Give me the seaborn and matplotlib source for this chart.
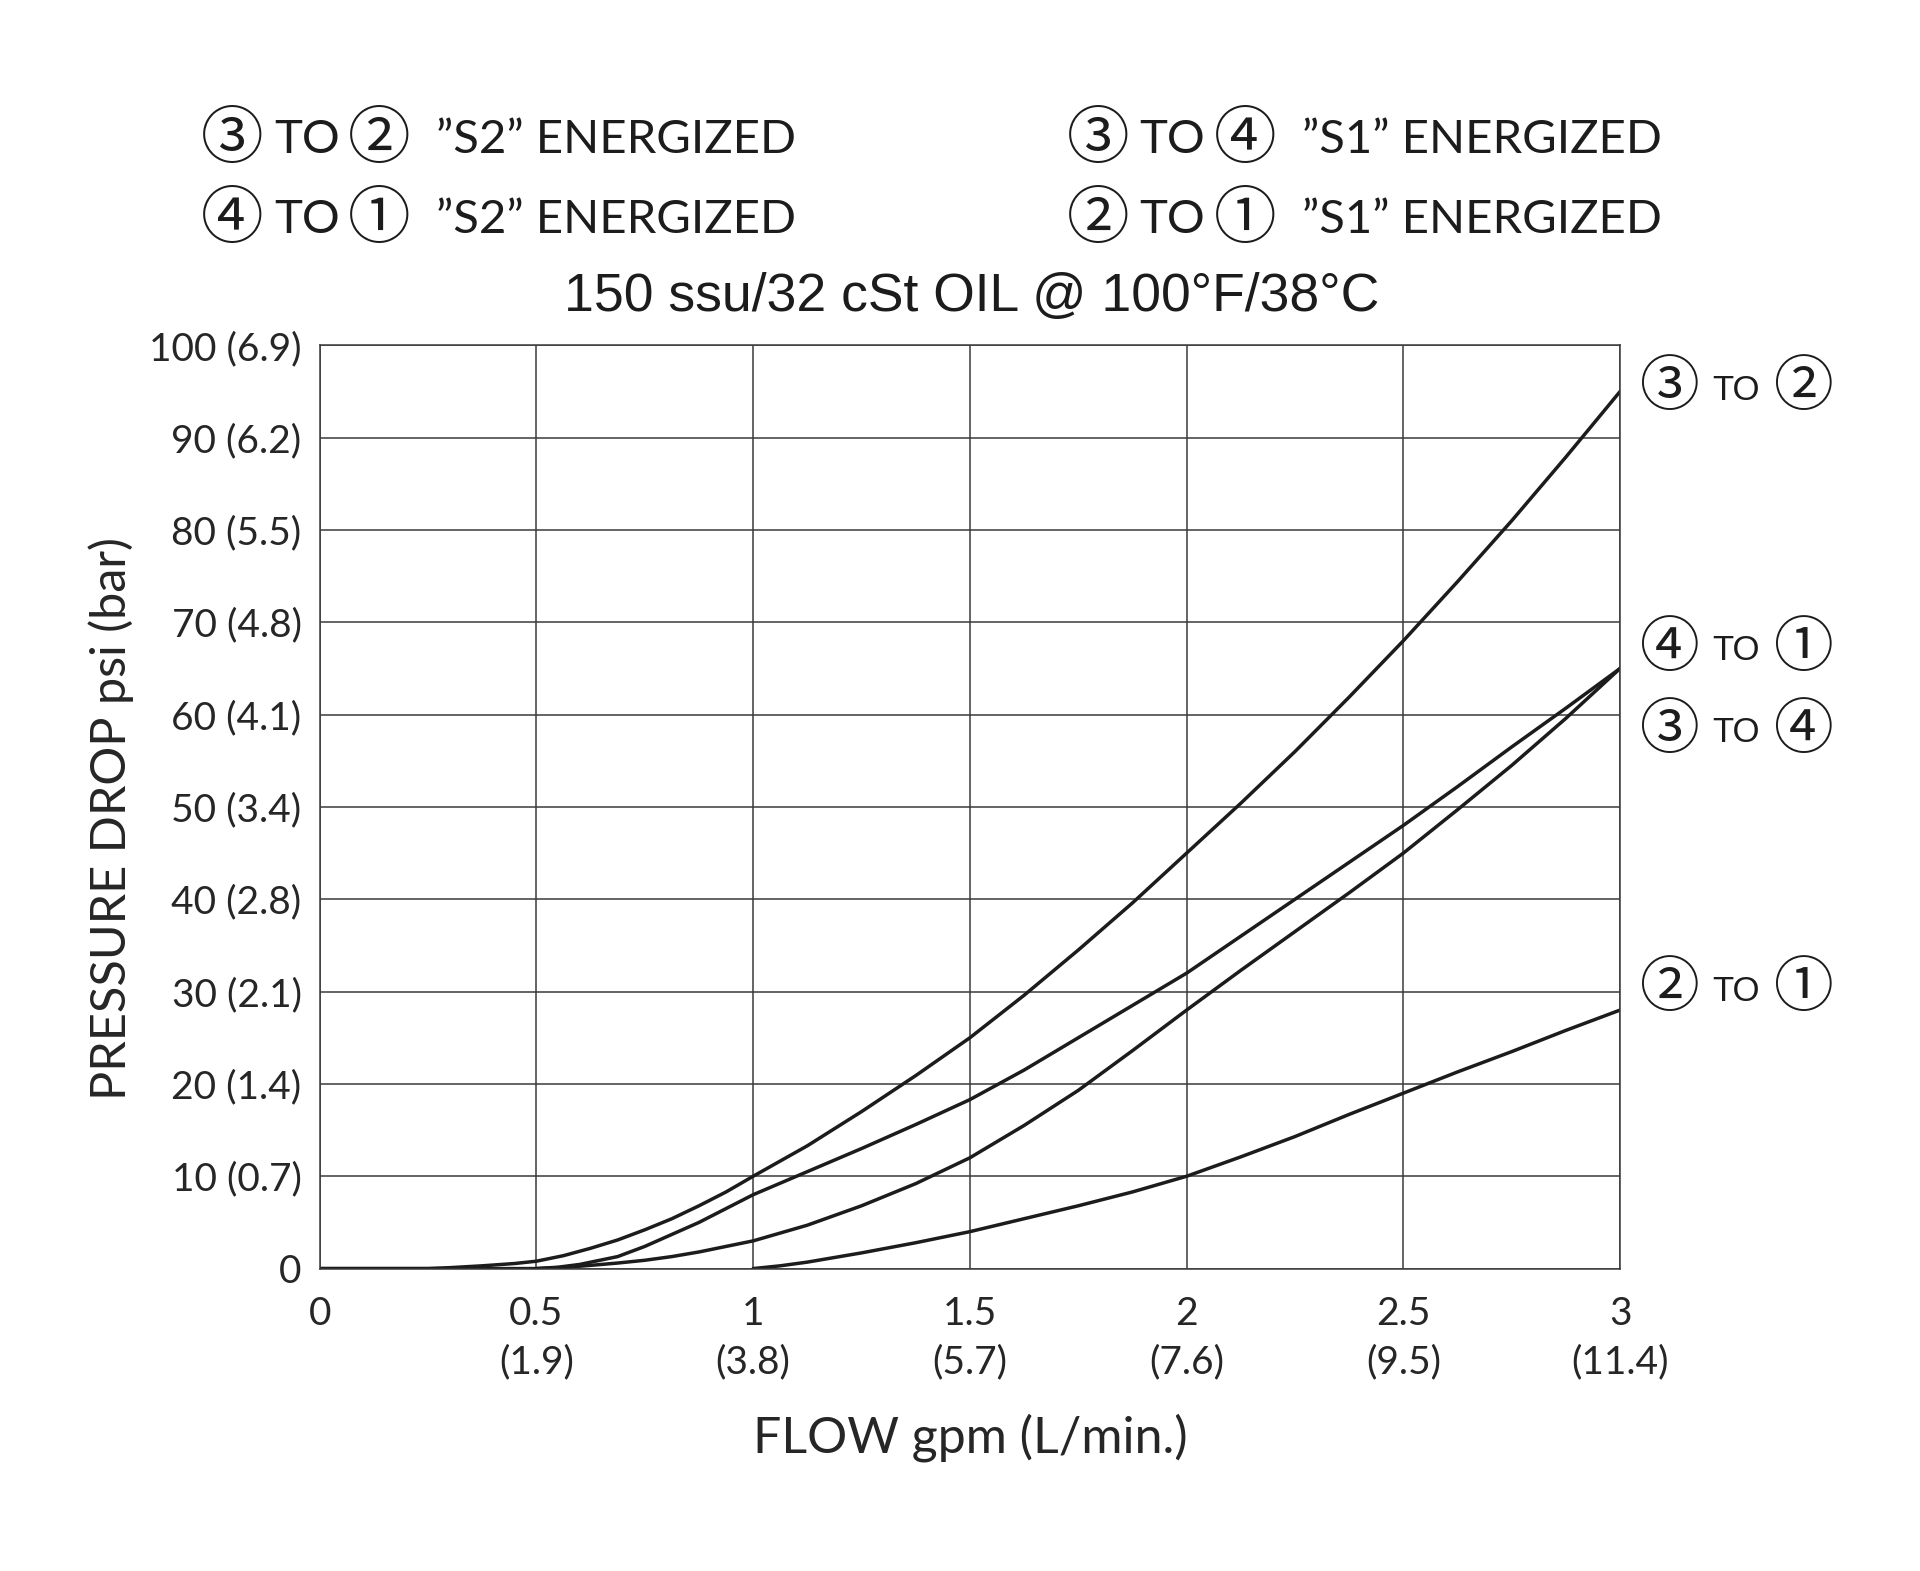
import pandas as pd
import matplotlib
matplotlib.use("Agg")
import matplotlib.pyplot as plt
import seaborn as sns

# curves: flow gpm -> pressure drop psi
flujo_32 = [0, 0.25, 0.3, 0.375, 0.45, 0.5, 0.5625, 0.625, 0.6875, 0.75, 0.8125, 0.875, 0.9375,
            1.0, 1.125, 1.25, 1.375, 1.5, 1.625, 1.75, 1.875, 2.0, 2.125, 2.25, 2.375, 2.5,
            2.625, 2.75, 2.875, 3.0]
psi_32 = [0, 0, 0.1, 0.3, 0.55, 0.8, 1.4, 2.2, 3.1, 4.2, 5.4, 6.8, 8.3,
          10, 13.3, 17, 20.9, 25, 29.6, 34.5, 39.6, 45, 50.4, 56, 61.9, 68,
          74.4, 81, 87.9, 95]

flujo_41 = [0.5, 0.55, 0.6, 0.6875, 0.75, 0.8125, 0.875, 0.9375, 1.0, 1.125, 1.25, 1.375,
            1.5, 1.625, 1.75, 1.875, 2.0, 2.125, 2.25, 2.375, 2.5, 2.625, 2.75, 2.875, 3.0]
psi_41 = [0, 0.15, 0.45, 1.3, 2.4, 3.7, 5.0, 6.5, 8, 10.5, 13, 15.6,
          18.3, 21.5, 25, 28.5, 32, 36, 40, 44, 48, 52.2, 56.5, 60.7, 65]

flujo_34 = [0, 0.5, 0.5625, 0.625, 0.6875, 0.75, 0.8125, 0.875, 0.9375, 1.0, 1.125, 1.25,
            1.375, 1.5, 1.625, 1.75, 1.875, 2.0, 2.125, 2.25, 2.375, 2.5, 2.625, 2.75, 2.875, 3.0]
psi_34 = [0, 0, 0.12, 0.35, 0.6, 0.9, 1.3, 1.8, 2.4, 3, 4.7, 6.8,
          9.2, 12, 15.5, 19.3, 23.6, 28, 32.3, 36.5, 40.7, 45, 49.7, 54.5, 59.6, 65]

flujo_21 = [1.0, 1.0625, 1.125, 1.25, 1.375, 1.5, 1.625, 1.75, 1.875, 2.0, 2.125, 2.25,
            2.375, 2.5, 2.625, 2.75, 2.875, 3.0]
psi_21 = [0, 0.3, 0.7, 1.7, 2.8, 4, 5.4, 6.8, 8.3, 10, 12.1, 14.3,
          16.7, 19, 21.3, 23.5, 25.8, 28]

curvas = [
    ("\u2462", "\u2461", flujo_32, psi_32, 95.3),
    ("\u2463", "\u2460", flujo_41, psi_41, 67.1),
    ("\u2462", "\u2463", flujo_34, psi_34, 58.2),
    ("\u2461", "\u2460", flujo_21, psi_21, 30.2),
]

x_ticks = [0, 0.5, 1, 1.5, 2, 2.5, 3]
x_labels = ["0", "0.5\n(1.9)", "1\n(3.8)", "1.5\n(5.7)", "2\n(7.6)", "2.5\n(9.5)", "3\n(11.4)"]
y_ticks = [0, 10, 20, 30, 40, 50, 60, 70, 80, 90, 100]
y_labels = ["0", "10 (0.7)", "20 (1.4)", "30 (2.1)", "40 (2.8)", "50 (3.4)",
            "60 (4.1)", "70 (4.8)", "80 (5.5)", "90 (6.2)", "100 (6.9)"]

encabezado = [
    ("\u2462", "\u2461", "\u201dS2\u201d ENERGIZED", 0.105, 0.911),
    ("\u2463", "\u2460", "\u201dS2\u201d ENERGIZED", 0.105, 0.860),
    ("\u2462", "\u2463", "\u201dS1\u201d ENERGIZED", 0.556, 0.911),
    ("\u2461", "\u2460", "\u201dS1\u201d ENERGIZED", 0.556, 0.860),
]

sns.set_style("white")
plt.rcParams["font.family"] = ["Lato", "DejaVu Sans"]
negro = "#1c1c1c"
circulo = ["Noto Sans CJK JP", "DejaVu Sans"]

fig = plt.figure(figsize=(19.2, 15.71), dpi=100)
ax = fig.add_axes([0.1665, 0.1925, 0.6773, 0.5877])

for a, b, xs, ys, ypos in curvas:
    df = pd.DataFrame({"flow": xs, "psi": ys})
    sns.lineplot(data=df, x="flow", y="psi", ax=ax, color=negro, linewidth=2.5)
    ax.annotate(a, xy=(3, ypos), xytext=(36, 0), textcoords="offset points",
                ha="center", va="center", fontsize=43, family=circulo,
                annotation_clip=False, color=negro)
    ax.annotate("TO", xy=(3, ypos), xytext=(66, -1), textcoords="offset points",
                ha="left", va="center", fontsize=25, family=["Liberation Sans"],
                annotation_clip=False, color=negro)
    ax.annotate(b, xy=(3, ypos), xytext=(132, 0), textcoords="offset points",
                ha="center", va="center", fontsize=43, family=circulo,
                annotation_clip=False, color=negro)

ax.set_xlim(0, 3)
ax.set_ylim(0, 100)
ax.set_xticks(x_ticks)
ax.set_xticklabels(x_labels, fontsize=28, linespacing=1.4)
ax.set_yticks(y_ticks)
ax.set_yticklabels(y_labels, fontsize=28)
ax.tick_params(axis="x", length=0, pad=20)
ax.tick_params(axis="y", length=0, pad=13)
ax.grid(True, color="#3a3a3a", linewidth=1.1)
for s in ax.spines.values():
    s.set_color("#3a3a3a")
    s.set_linewidth(1.1)
ax.set_xlabel("FLOW gpm (L/min.)", fontsize=36, labelpad=24)
ax.set_ylabel("PRESSURE DROP psi (bar)", fontsize=35, labelpad=11)
ax.yaxis.label.set_y(0.487)

for a, b, resto, x, y in encabezado:
    ax.annotate(a, xy=(x, y), xycoords="figure fraction", xytext=(22, 0),
                textcoords="offset points", ha="center", va="center", fontsize=45,
                family=circulo, color=negro)
    ax.annotate("TO", xy=(x, y), xycoords="figure fraction", xytext=(52, 0),
                textcoords="offset points", ha="left", va="center", fontsize=34, color=negro)
    ax.annotate(b, xy=(x, y), xycoords="figure fraction", xytext=(128, 0),
                textcoords="offset points", ha="center", va="center", fontsize=45,
                family=circulo, color=negro)
    ax.annotate(resto, xy=(x, y), xycoords="figure fraction", xytext=(169, 0),
                textcoords="offset points", ha="left", va="center", fontsize=34, color=negro)

fig.text(0.506, 0.811, "150 ssu/32 cSt OIL @ 100\u00b0F/38\u00b0C", fontsize=38.5,
         ha="center", va="center", family=["Liberation Sans"], color=negro)

fig.savefig("out.png", dpi=100, facecolor="white")
